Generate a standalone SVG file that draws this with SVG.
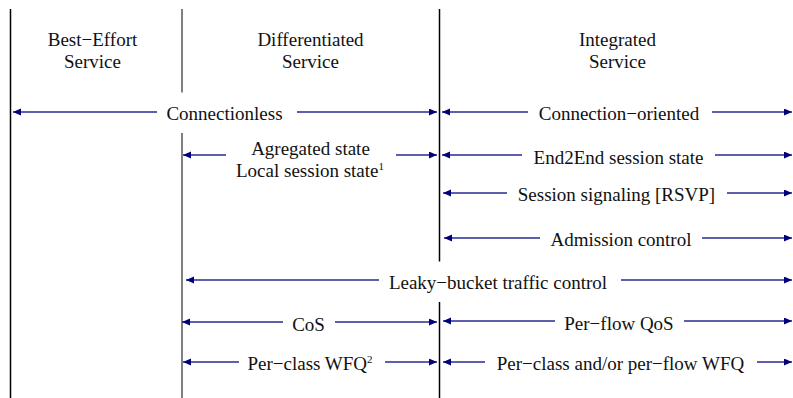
<svg xmlns="http://www.w3.org/2000/svg" width="793" height="398" viewBox="0 0 793 398">
<style>
text{font-family:"Liberation Serif","Times New Roman",serif;font-size:19px;fill:#111;text-anchor:middle}
.sup{font-size:11px}
.ar{stroke:#2a2a95;stroke-width:1.5;fill:none;marker-end:url(#ah)}
.vb{stroke:#000;stroke-width:1.5}
.vg{stroke:#808080;stroke-width:2}
</style>
<defs>
<marker id="ah" markerUnits="userSpaceOnUse" markerWidth="9" markerHeight="8" refX="8" refY="3.5" orient="auto">
<path d="M0,0 L8,3.5 L0,7 Z" fill="#00007a"/>
</marker>
</defs>
<g id="dividers">
<line class="vb" x1="10.5" y1="9" x2="10.5" y2="398"/>
<line class="vg" x1="182" y1="9" x2="182" y2="92.5"/>
<line class="vg" x1="182" y1="133" x2="182" y2="398"/>
<line class="vb" x1="439.5" y1="9" x2="439.5" y2="261.5"/>
<line class="vb" x1="439.5" y1="302" x2="439.5" y2="398"/>
</g>
<g id="headers">
<text x="92.5" y="46">Best−Effort</text>
<text x="92.5" y="68">Service</text>
<text x="310.5" y="46">Differentiated</text>
<text x="310.5" y="68">Service</text>
<text x="617.5" y="46">Integrated</text>
<text x="617.5" y="68">Service</text>
</g>
<g id="connectors">
<line class="ar" x1="157" y1="112" x2="13" y2="112"/>
<line class="ar" x1="297" y1="112" x2="437" y2="112"/>
<line class="ar" x1="528" y1="112" x2="442" y2="112"/>
<line class="ar" x1="712" y1="112" x2="792" y2="112"/>
<line class="ar" x1="226" y1="155" x2="183" y2="155"/>
<line class="ar" x1="396" y1="155" x2="437" y2="155"/>
<line class="ar" x1="522" y1="155" x2="442" y2="155"/>
<line class="ar" x1="715" y1="155" x2="792" y2="155"/>
<line class="ar" x1="507" y1="193" x2="443" y2="193"/>
<line class="ar" x1="727" y1="193" x2="792" y2="193"/>
<line class="ar" x1="540" y1="238" x2="444" y2="238"/>
<line class="ar" x1="702" y1="238" x2="792" y2="238"/>
<line class="ar" x1="379" y1="280" x2="186" y2="280"/>
<line class="ar" x1="621" y1="280" x2="792" y2="280"/>
<line class="ar" x1="283" y1="322" x2="182" y2="322"/>
<line class="ar" x1="335" y1="322" x2="437" y2="322"/>
<line class="ar" x1="555" y1="321" x2="443" y2="321"/>
<line class="ar" x1="684" y1="321" x2="792" y2="321"/>
<line class="ar" x1="239" y1="362" x2="183" y2="362"/>
<line class="ar" x1="385" y1="362" x2="437" y2="362"/>
<line class="ar" x1="485" y1="362" x2="443" y2="362"/>
<line class="ar" x1="757" y1="362" x2="792" y2="362"/>
</g>
<g id="labels">
<text x="224.5" y="119.5">Connectionless</text>
<text x="619" y="119.5">Connection−oriented</text>
<text x="310.5" y="155">Agregated state</text>
<text x="310" y="176.5">Local session state<tspan class="sup" dy="-7">1</tspan></text>
<text x="618.5" y="163.5">End2End session state</text>
<text x="616.5" y="201">Session signaling [RSVP]</text>
<text x="621" y="246">Admission control</text>
<text x="498" y="288.5">Leaky−bucket traffic control</text>
<text x="308.5" y="330.5">CoS</text>
<text x="619" y="329.5">Per−flow QoS</text>
<text x="310" y="370">Per−class WFQ<tspan class="sup" dy="-7">2</tspan></text>
<text x="620.5" y="370">Per−class and/or per−flow WFQ</text>
</g>
</svg>
